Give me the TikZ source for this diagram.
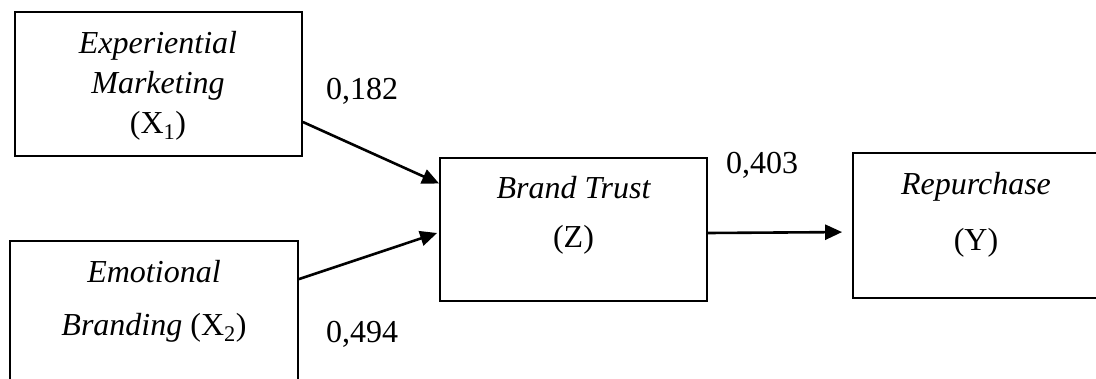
\documentclass[tikz,border=0pt]{standalone}
\usepackage{fontspec}
\setmainfont{Liberation Serif}
\usetikzlibrary{arrows.meta}

\begin{document}
\begin{tikzpicture}[x=1pt,y=-1pt,
  box/.style={draw,line width=1.8pt,rectangle,inner sep=0pt},
  lbl/.style={inner sep=0pt,align=center,font=\fontsize{32}{40}\selectfont},
  coef/.style={inner sep=0pt,anchor=base,font=\fontsize{32}{38}\selectfont},
  arr/.style={line width=2.6pt,-{Triangle[length=17pt,width=15pt]}}]
\clip (0,0) rectangle (1096,378);
\node[box,minimum width=287pt,minimum height=144pt] (x1) at (158.5,84) {};
\node[box,minimum width=288pt,minimum height=180pt] (x2) at (154,331) {};
\node[box,minimum width=267pt,minimum height=143pt] (bt) at (573.5,229.5) {};
\node[box,minimum width=246pt,minimum height=145pt] (rp) at (976,225.5) {};
% texts in the boxes
\node[lbl,anchor=base] (t1a) at (158,53) {\itshape Experiential};
\node[lbl,anchor=base] (t1b) at (158,93) {\itshape Marketing};
\node[lbl,anchor=base] (t1c) at (158,133) {(X\textsubscript{1})};
\node[lbl,anchor=base] (t2a) at (154,282) {\itshape Emotional};
\node[lbl,anchor=base] (t2b) at (154,335) {\textit{Branding} (X\textsubscript{2})};
\node[lbl,anchor=base] (t3a) at (573.5,198) {\itshape Brand Trust};
\node[lbl,anchor=base] (t3b) at (573.5,247) {(Z)};
\node[lbl,anchor=base] (t4a) at (976,194) {\itshape Repurchase};
\node[lbl,anchor=base] (t4b) at (976,250) {(Y)};
% paths
\draw[arr] ([yshift=-38pt]x1.east) -- ([yshift=46pt]bt.west);
\draw[arr] ([yshift=-39pt]x2.north east) -- ([yshift=-3.5pt,xshift=-2pt]bt.west);
\draw[arr,shorten >=10pt] ([yshift=-3.5pt]bt.east) -- ([yshift=-6.5pt]rp.west);
\node[coef] (c1) at (362,99) {0,182};
\node[coef] (c2) at (362,342) {0,494};
\node[coef] (c3) at (762,173) {0,403};
\end{tikzpicture}
\end{document}
